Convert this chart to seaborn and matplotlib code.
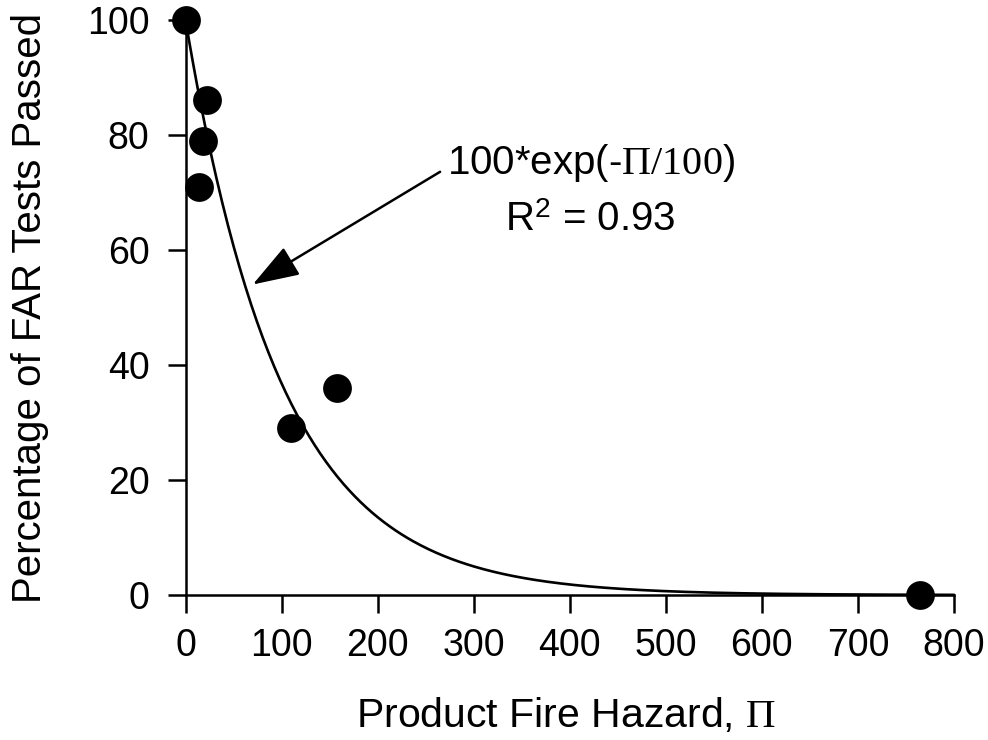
import numpy as np
import pandas as pd
import matplotlib
matplotlib.use("Agg")
import matplotlib.pyplot as plt
import seaborn as sns

# Measured points: product fire hazard vs. percentage of FAR tests passed
hazard = [0, 14, 18, 22, 110, 158, 765]
passed = [100, 71, 79, 86, 29, 36, 0]

# Exponential fit curve 100*exp(-Pi/100)
fit_scale = 100.0
fit_x = np.linspace(0, 800, 400)
fit_y = 100.0 * np.exp(-fit_x / fit_scale)

x_ticks = [0, 100, 200, 300, 400, 500, 600, 700, 800]
y_ticks = [0, 20, 40, 60, 80, 100]

sns.set_theme(style="ticks")
plt.rcParams["font.family"] = ["Liberation Sans", "DejaVu Sans"]
plt.rcParams["mathtext.fontset"] = "custom"
plt.rcParams["mathtext.rm"] = "Liberation Serif"
plt.rcParams["mathtext.it"] = "Liberation Serif:italic"
plt.rcParams["mathtext.sf"] = "Liberation Sans"

fig = plt.figure(figsize=(9.88, 7.40), dpi=100)
ax = fig.add_axes([0.1878, 0.1959, 0.9656 - 0.1878, 0.973 - 0.1959])

points = pd.DataFrame({"hazard": hazard, "passed": passed})
fit = pd.DataFrame({"hazard": fit_x, "passed": fit_y})

sns.lineplot(data=fit, x="hazard", y="passed", ax=ax, color="black",
             linewidth=1.9, clip_on=False)
sns.scatterplot(data=points, x="hazard", y="passed", ax=ax, color="black",
                s=430, edgecolor="black", linewidth=0, clip_on=False, zorder=5)

ax.set_xlim(0, 800)
ax.set_ylim(0, 100)
ax.set_xticks(x_ticks)
ax.set_yticks(y_ticks)
ax.set_xticklabels([str(v) for v in x_ticks])
ax.set_yticklabels([str(v) for v in y_ticks])

for side in ("top", "right"):
    ax.spines[side].set_visible(False)
for side in ("left", "bottom"):
    ax.spines[side].set_linewidth(1.8)
    ax.spines[side].set_color("black")
ax.tick_params(axis="both", direction="out", length=13, width=1.8,
               color="black", labelsize=27, labelcolor="black")
ax.tick_params(axis="x", pad=11)
ax.tick_params(axis="y", pad=13)

ax.set_xlabel(r"Product Fire Hazard, $\Pi$", fontsize=29.5, color="black")
ax.xaxis.set_label_coords(0.495, -0.176)
ax.set_ylabel("Percentage of FAR Tests Passed", fontsize=29, color="black",
              labelpad=27)

# Fit formula and goodness of fit
ax.text(422, 75.1, r"100*exp(-$\mathrm{\Pi/100}$)", fontsize=29,
        color="black", ha="center", va="center")
ax.text(421, 65.2, r"R$^\mathsf{2}$ = 0.93", fontsize=29,
        color="black", ha="center", va="center")

ax.annotate("", xy=(70, 54), xytext=(265, 73.6),
            arrowprops=dict(arrowstyle="-|>,head_length=1.45,head_width=0.5",
                            mutation_scale=20, color="black", lw=1.8,
                            shrinkA=0, shrinkB=0))

fig.savefig("out.png", dpi=100)
